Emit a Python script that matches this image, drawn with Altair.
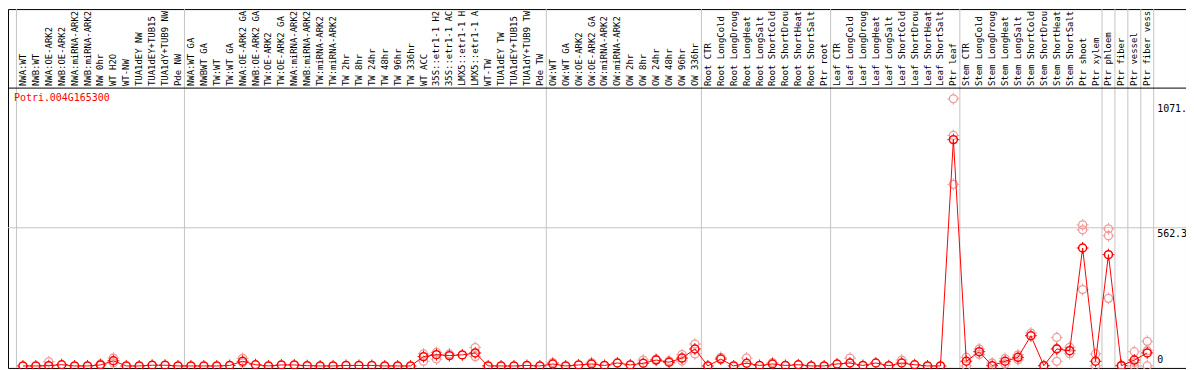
import altair as alt
import pandas as pd

gene = "Potri.004G165300"

samples = [
    "NWA:WT", "NWB:WT", "NWA:OE-ARK2", "NWB:OE-ARK2", "NWA:miRNA-ARK2", "NWB:miRNA-ARK2",
    "NW 0hr", "WT H2O", "WT-NW", "TUA1dEY NW", "TUA1dEY+TUB15", "TUA1dY+TUB9 NW", "Pde NW",
    "NWA:WT GA", "NWBWT GA", "TW:WT", "TW:WT GA", "NWA:OE-ARK2 GA", "NWB:OE-ARK2 GA",
    "TW:OE-ARK2", "TW:OE-ARK2 GA", "NWA:miRNA-ARK2", "NWB:miRNA-ARK2", "TW:miRNA-ARK2",
    "TW:miRNA-ARK2", "TW 2hr", "TW 8hr", "TW 24hr", "TW 48hr", "TW 96hr", "TW 336hr", "WT ACC",
    "35S::etr1-1 H2", "35S::etr1-1 AC", "LMX5::etr1-1 H", "LMX5::etr1-1 A", "WT-TW",
    "TUA1dEY TW", "TUA1dEY+TUB15", "TUA1dY+TUB9 TW", "Pde TW",
    "OW:WT", "OW:WT GA", "OW:OE-ARK2", "OW:OE-ARK2 GA", "OW:miRNA-ARK2", "OW:miRNA-ARK2",
    "OW 2hr", "OW 8hr", "OW 24hr", "OW 48hr", "OW 96hr", "OW 336hr",
    "Root CTR", "Root LongCold", "Root LongDroug", "Root LongHeat", "Root LongSalt",
    "Root ShortCold", "Root ShortDrou", "Root ShortHeat", "Root ShortSalt", "Ptr root",
    "Leaf CTR", "Leaf LongCold", "Leaf LongDroug", "Leaf LongHeat", "Leaf LongSalt",
    "Leaf ShortCold", "Leaf ShortDrou", "Leaf ShortHeat", "Leaf ShortSalt", "Ptr leaf",
    "Stem CTR", "Stem LongCold", "Stem LongDroug", "Stem LongHeat", "Stem LongSalt",
    "Stem ShortCold", "Stem ShortDrou", "Stem ShortHeat", "Stem ShortSalt", "Ptr shoot",
    "Ptr xylem", "Ptr phloem", "Ptr fiber", "Ptr vessel", "Ptr fiber vess",
]

means = [
    0, 0, 1, 5, 0, 0, 4, 21, 0, 0, 3, 3, 0,
    0, 0, 0, 2, 19, 5, 0, 4, 4, 1, 0, 0, 2, 2, 2, 0, 0, 0, 38, 46, 42, 45, 53, 0, 0, 0, 2, 0,
    8, 0, 4, 8, 2, 12, 4, 11, 24, 15, 32, 69,
    0, 28, 0, 11, 2, 8, 2, 5, 0, 0,
    8, 12, 2, 12, 1, 12, 5, 0, 0, 921,
    19, 58, 1, 19, 35, 123, 1, 69, 62, 480,
    19, 453, 1, 24, 53,
]

# replicate measurements that stand apart from the mean (column number, value)
rep_col = [3, 7, 8, 8, 18, 18, 32, 32, 33, 33, 34, 36, 36, 42, 45, 49, 50, 51, 52, 52,
           53, 53, 55, 57, 59, 65, 69, 73, 73, 73, 74, 74, 75, 75, 76, 77, 77, 78, 78, 79,
           81, 81, 81, 82, 82, 83, 83, 83, 84, 84, 85, 85, 85, 86, 87, 87, 87, 88, 88, 88]
rep_val = [17, 8, 32, 12, 31, 13, 49, 19, 55, 28, 49, 75, 38, 14, 14, 24, 28, 21, 46, 20,
           89, 49, 35, 32, 14, 32, 24, 1087, 938, 739, 35, 0, 69, 47, 12, 30, 8, 45, 25, 134,
           116, 19, 72, 76, 50, 574, 554, 311, 49, 0, 558, 530, 275, 3, 58, 0, 14, 100, 62, 0]

separators = [0.5, 13.5, 41.5, 53.5, 63.5, 73.5, 84.5, 85.5, 86.5, 87.5, 88.5]
grid_values = [562.3]
tick_top_values = [1071, 562.3]
tick_top_labels = ["1071.", "562.3"]
tick_bottom_values = [0]
tick_bottom_labels = ["0"]

W, H = 1185, 361
PX_PER_UNIT = 139 / 562.3
xscale = alt.Scale(domain=[1 - 15 / 13, 1 + (W - 15) / 13], nice=False, zero=False)
yscale = alt.Scale(domain=[-(H - 359) / PX_PER_UNIT, 359 / PX_PER_UNIT], nice=False, zero=False)

df_mean = pd.DataFrame({"idx": list(range(1, len(samples) + 1)), "sample": samples, "value": means})
df_rep = pd.DataFrame({"idx": rep_col, "value": rep_val})
df_sep = pd.DataFrame({"pos": separators})
df_grid = pd.DataFrame({"v": grid_values})
df_top = pd.DataFrame({"v": tick_top_values, "t": tick_top_labels})
df_bot = pd.DataFrame({"v": tick_bottom_values, "t": tick_bottom_labels})
df_gene = pd.DataFrame({"g": [gene]})

MONO = "DejaVu Sans Mono"
TICKS = "M1,0H1.5M-1,0H-1.5M0,1V1.5M0,-1V-1.5"

X = lambda f: alt.X(f, scale=xscale, axis=None)
Y = lambda f: alt.Y(f, scale=yscale, axis=None)

seps = alt.Chart(df_sep).mark_rule(color="#c4c4c4", strokeWidth=1).encode(
    x=X("pos:Q"), y=alt.value(0), y2=alt.value(H))
grid = alt.Chart(df_grid).mark_rule(color="#c4c4c4", strokeWidth=1).encode(
    y=Y("v:Q"), x=alt.value(0), x2=alt.value(W))
hline = alt.Chart(df_gene).mark_rule(color="black", strokeWidth=1).encode(
    y=alt.value(79.5), x=alt.value(0), x2=alt.value(W))
labels = alt.Chart(df_mean).mark_text(
    angle=270, align="left", baseline="middle", font=MONO, fontSize=9, color="black"
).encode(x=X("idx:Q"), y=alt.value(77.5), text="sample:N")
title = alt.Chart(df_gene).mark_text(
    align="left", baseline="middle", font=MONO, fontSize=10, color="red"
).encode(x=alt.value(6), y=alt.value(89), text="g:N")


def marker(df, color, sw):
    ring = alt.Chart(df).mark_point(
        shape="circle", size=64, filled=False, strokeWidth=sw, color=color, opacity=1
    ).encode(x=X("idx:Q"), y=Y("value:Q"))
    ticks = alt.Chart(df).mark_point(
        shape=TICKS, size=64, filled=False, strokeWidth=1, color=color, opacity=1
    ).encode(x=X("idx:Q"), y=Y("value:Q"))
    return ring, ticks


rep_ring, rep_ticks = marker(df_rep, "#f09a9a", 1.3)
line = alt.Chart(df_mean).mark_line(color="red", strokeWidth=1).encode(
    x=X("idx:Q"), y=Y("value:Q"))
pt_ring, pt_ticks = marker(df_mean, "red", 1.5)
ytop = alt.Chart(df_top).mark_text(
    align="left", baseline="top", font=MONO, fontSize=10, color="black", dy=1
).encode(y=Y("v:Q"), x=alt.value(1156), text="t:N")
ybot = alt.Chart(df_bot).mark_text(
    align="left", baseline="bottom", font=MONO, fontSize=10, color="black", dy=-1
).encode(y=Y("v:Q"), x=alt.value(1156), text="t:N")

chart = alt.layer(seps, grid, hline, labels, title, rep_ring, rep_ticks, line,
                  pt_ring, pt_ticks, ytop, ybot).properties(
    width=W, height=H, autosize=alt.AutoSizeParams(type="none"), padding=0,
    background="white"
).configure_view(stroke="black", strokeWidth=1)

chart.save("out.html", embed_options={"renderer": "svg", "actions": False})
